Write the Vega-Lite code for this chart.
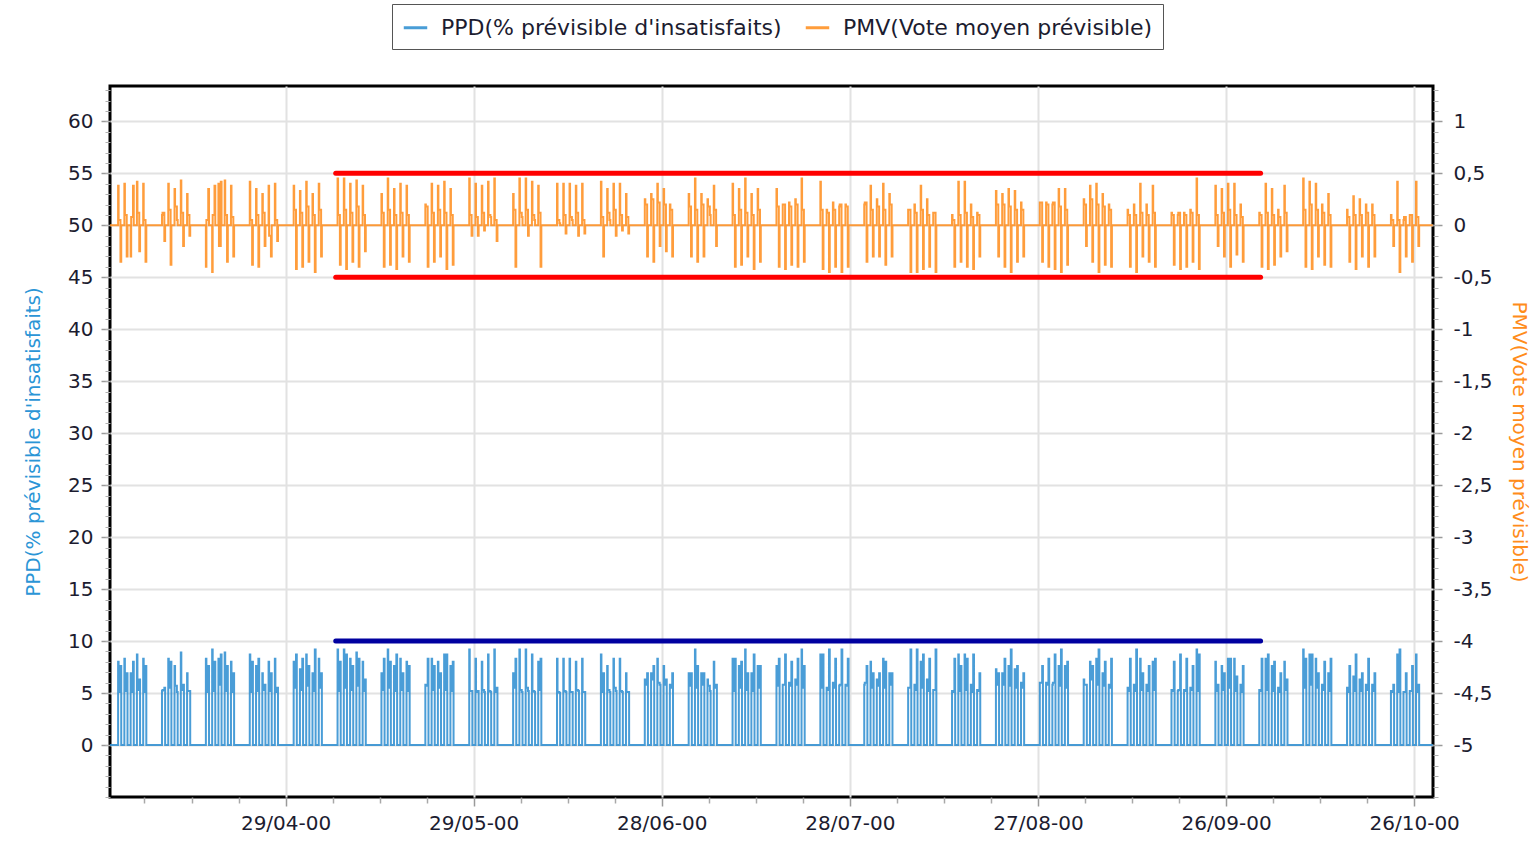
{
"$schema":"https://vega.github.io/schema/vega-lite/v6.json",
"width":1323,"height":711,
"autosize":{"type":"none"},
"padding":{"left":110,"top":86,"right":105,"bottom":47},
"background":"white",
"config":{"view":{"stroke":"#000","strokeWidth":3},"font":"DejaVu Sans"},
"data":{"format":{"parse":{"t":"date:'%y%m%d%H'"}},"values":[
{"t":"00040100","p":0,"m":0},
{"t":"00040207","p":8,"m":0.38},{"t":"00040209","p":5.1,"m":0.05},{"t":"00040216","p":7.6,"m":-0.35},{"t":"00040219","p":0,"m":0},
{"t":"00040307","p":8.3,"m":0.4},{"t":"00040309","p":5.2,"m":0.1},{"t":"00040316","p":6.9,"m":-0.3},{"t":"00040319","p":0,"m":0},
{"t":"00040407","p":6.9,"m":-0.3},{"t":"00040409","p":5.1,"m":0.08},{"t":"00040416","p":8,"m":0.38},{"t":"00040419","p":0,"m":0},
{"t":"00040507","p":8.7,"m":0.42},{"t":"00040509","p":5.3,"m":0.12},{"t":"00040516","p":6.3,"m":-0.25},{"t":"00040519","p":0,"m":0},
{"t":"00040607","p":8.3,"m":0.4},{"t":"00040609","p":5.1,"m":0.05},{"t":"00040616","p":7.6,"m":-0.35},{"t":"00040619","p":0,"m":0},
{"t":"00040907","p":5.2,"m":0.1},{"t":"00040909","p":5.3,"m":0.12},{"t":"00040916","p":5.5,"m":-0.15},{"t":"00040919","p":0,"m":0},
{"t":"00041007","p":8.3,"m":0.4},{"t":"00041009","p":5.5,"m":0.15},{"t":"00041016","p":8,"m":-0.38},{"t":"00041019","p":0,"m":0},
{"t":"00041107","p":7.6,"m":0.35},{"t":"00041109","p":5.7,"m":0.18},{"t":"00041116","p":5.1,"m":0.05},{"t":"00041119","p":0,"m":0},
{"t":"00041207","p":8.9,"m":0.43},{"t":"00041209","p":5.3,"m":0.12},{"t":"00041216","p":5.8,"m":-0.2},{"t":"00041219","p":0,"m":0},
{"t":"00041307","p":6.9,"m":0.3},{"t":"00041309","p":5.2,"m":0.1},{"t":"00041316","p":5.2,"m":-0.1},{"t":"00041319","p":0,"m":0},
{"t":"00041607","p":8.3,"m":-0.4},{"t":"00041609","p":5.1,"m":0.05},{"t":"00041616","p":7.6,"m":0.35},{"t":"00041619","p":0,"m":0},
{"t":"00041707","p":9.2,"m":-0.45},{"t":"00041709","p":5.2,"m":0.1},{"t":"00041716","p":8,"m":0.38},{"t":"00041719","p":0,"m":0},
{"t":"00041807","p":8.3,"m":0.4},{"t":"00041809","p":5.8,"m":-0.2},{"t":"00041816","p":8.7,"m":0.42},{"t":"00041819","p":0,"m":0},
{"t":"00041907","p":8.9,"m":0.43},{"t":"00041909","p":5.2,"m":0.1},{"t":"00041916","p":7.6,"m":-0.35},{"t":"00041919","p":0,"m":0},
{"t":"00042007","p":8,"m":0.38},{"t":"00042009","p":5.1,"m":0.08},{"t":"00042016","p":6.9,"m":-0.3},{"t":"00042019","p":0,"m":0},
{"t":"00042307","p":8.7,"m":0.42},{"t":"00042309","p":5.1,"m":0.05},{"t":"00042316","p":8,"m":-0.38},{"t":"00042319","p":0,"m":0},
{"t":"00042407","p":7.6,"m":0.35},{"t":"00042409","p":5.2,"m":0.1},{"t":"00042416","p":8.3,"m":-0.4},{"t":"00042419","p":0,"m":0},
{"t":"00042507","p":6.9,"m":0.3},{"t":"00042509","p":5.3,"m":0.12},{"t":"00042516","p":5.8,"m":-0.2},{"t":"00042519","p":0,"m":0},
{"t":"00042607","p":8,"m":0.38},{"t":"00042609","p":5.2,"m":-0.1},{"t":"00042616","p":6.9,"m":-0.3},{"t":"00042619","p":0,"m":0},
{"t":"00042707","p":8.3,"m":0.4},{"t":"00042709","p":5.1,"m":0.05},{"t":"00042716","p":5.5,"m":-0.15},{"t":"00042719","p":0,"m":0},
{"t":"00043007","p":8,"m":0.38},{"t":"00043009","p":5.5,"m":0.15},{"t":"00043016","p":8.7,"m":-0.42},{"t":"00043019","p":0,"m":0},
{"t":"00050107","p":7.3,"m":0.33},{"t":"00050109","p":5.3,"m":0.12},{"t":"00050116","p":8.3,"m":-0.4},{"t":"00050119","p":0,"m":0},
{"t":"00050207","p":8.7,"m":0.42},{"t":"00050209","p":5.7,"m":0.18},{"t":"00050216","p":7.6,"m":-0.35},{"t":"00050219","p":0,"m":0},
{"t":"00050307","p":6.9,"m":0.3},{"t":"00050309","p":5.2,"m":0.1},{"t":"00050316","p":9.2,"m":-0.45},{"t":"00050319","p":0,"m":0},
{"t":"00050407","p":8.3,"m":0.4},{"t":"00050409","p":5.5,"m":0.15},{"t":"00050416","p":6.9,"m":-0.3},{"t":"00050419","p":0,"m":0},
{"t":"00050707","p":9.2,"m":0.45},{"t":"00050709","p":5.2,"m":0.1},{"t":"00050716","p":8,"m":-0.38},{"t":"00050719","p":0,"m":0},
{"t":"00050807","p":9.2,"m":0.45},{"t":"00050809","p":5.5,"m":0.15},{"t":"00050816","p":8.7,"m":-0.42},{"t":"00050819","p":0,"m":0},
{"t":"00050907","p":8.3,"m":0.4},{"t":"00050909","p":5.3,"m":0.12},{"t":"00050916","p":7.6,"m":-0.35},{"t":"00050919","p":0,"m":0},
{"t":"00051007","p":8.9,"m":0.43},{"t":"00051009","p":5.7,"m":0.18},{"t":"00051016","p":8.3,"m":-0.4},{"t":"00051019","p":0,"m":0},
{"t":"00051107","p":8,"m":0.38},{"t":"00051109","p":5.2,"m":0.1},{"t":"00051116","p":6.3,"m":-0.25},{"t":"00051119","p":0,"m":0},
{"t":"00051407","p":6.9,"m":0.3},{"t":"00051409","p":5.3,"m":0.12},{"t":"00051416","p":8.3,"m":-0.4},{"t":"00051419","p":0,"m":0},
{"t":"00051507","p":9.2,"m":0.45},{"t":"00051509","p":5.5,"m":0.15},{"t":"00051516","p":8,"m":-0.38},{"t":"00051519","p":0,"m":0},
{"t":"00051607","p":7.6,"m":0.35},{"t":"00051609","p":5.2,"m":0.1},{"t":"00051616","p":8.7,"m":-0.42},{"t":"00051619","p":0,"m":0},
{"t":"00051707","p":8.3,"m":0.4},{"t":"00051709","p":5.3,"m":0.12},{"t":"00051716","p":6.9,"m":-0.3},{"t":"00051719","p":0,"m":0},
{"t":"00051807","p":8,"m":0.38},{"t":"00051809","p":5.2,"m":0.1},{"t":"00051816","p":7.6,"m":-0.35},{"t":"00051819","p":0,"m":0},
{"t":"00052107","p":5.8,"m":0.2},{"t":"00052109","p":5.7,"m":0.18},{"t":"00052116","p":8.3,"m":-0.4},{"t":"00052119","p":0,"m":0},
{"t":"00052207","p":8.3,"m":0.4},{"t":"00052209","p":5.3,"m":0.12},{"t":"00052216","p":7.6,"m":-0.35},{"t":"00052219","p":0,"m":0},
{"t":"00052307","p":8,"m":0.38},{"t":"00052309","p":5.5,"m":0.15},{"t":"00052316","p":6.9,"m":-0.3},{"t":"00052319","p":0,"m":0},
{"t":"00052407","p":8.7,"m":0.42},{"t":"00052409","p":5.3,"m":0.12},{"t":"00052416","p":8.7,"m":-0.42},{"t":"00052419","p":0,"m":0},
{"t":"00052507","p":7.6,"m":0.35},{"t":"00052509","p":5.2,"m":0.1},{"t":"00052516","p":8,"m":-0.38},{"t":"00052519","p":0,"m":0},
{"t":"00052807","p":9.2,"m":0.45},{"t":"00052809","p":5.2,"m":0.1},{"t":"00052816","p":5.2,"m":-0.1},{"t":"00052819","p":0,"m":0},
{"t":"00052907","p":8.3,"m":0.4},{"t":"00052909","p":5.1,"m":0.08},{"t":"00052916","p":5.2,"m":-0.1},{"t":"00052919","p":0,"m":0},
{"t":"00053007","p":8,"m":0.38},{"t":"00053009","p":5.3,"m":0.12},{"t":"00053016","p":5.1,"m":-0.05},{"t":"00053019","p":0,"m":0},
{"t":"00053107","p":8.7,"m":0.42},{"t":"00053109","p":5.2,"m":0.1},{"t":"00053116","p":5.1,"m":0.08},{"t":"00053119","p":0,"m":0},
{"t":"00060107","p":9.2,"m":0.45},{"t":"00060109","p":5.1,"m":0.05},{"t":"00060116","p":5.5,"m":-0.15},{"t":"00060119","p":0,"m":0},
{"t":"00060407","p":6.9,"m":0.3},{"t":"00060409","p":5.5,"m":0.15},{"t":"00060416","p":8.3,"m":-0.4},{"t":"00060419","p":0,"m":0},
{"t":"00060507","p":9.2,"m":0.45},{"t":"00060509","p":5.3,"m":0.12},{"t":"00060516","p":5.1,"m":0.08},{"t":"00060519","p":0,"m":0},
{"t":"00060607","p":9.2,"m":0.45},{"t":"00060609","p":5.5,"m":0.15},{"t":"00060616","p":5.2,"m":-0.1},{"t":"00060619","p":0,"m":0},
{"t":"00060707","p":8.7,"m":0.42},{"t":"00060709","p":5.2,"m":0.1},{"t":"00060716","p":5.1,"m":0.05},{"t":"00060719","p":0,"m":0},
{"t":"00060807","p":8,"m":0.38},{"t":"00060809","p":5.3,"m":0.12},{"t":"00060816","p":8.3,"m":-0.4},{"t":"00060819","p":0,"m":0},
{"t":"00061107","p":8.3,"m":0.4},{"t":"00061109","p":5.1,"m":0.05},{"t":"00061116","p":5,"m":0.02},{"t":"00061119","p":0,"m":0},
{"t":"00061207","p":8.3,"m":0.4},{"t":"00061209","p":5.2,"m":0.1},{"t":"00061216","p":5.1,"m":-0.08},{"t":"00061219","p":0,"m":0},
{"t":"00061307","p":8.3,"m":0.4},{"t":"00061309","p":5.1,"m":0.08},{"t":"00061316","p":5.1,"m":0.05},{"t":"00061319","p":0,"m":0},
{"t":"00061407","p":8,"m":0.38},{"t":"00061409","p":5.3,"m":0.12},{"t":"00061416","p":5.2,"m":-0.1},{"t":"00061419","p":0,"m":0},
{"t":"00061507","p":8.3,"m":0.4},{"t":"00061509","p":5.1,"m":0.05},{"t":"00061516","p":5.1,"m":-0.08},{"t":"00061519","p":0,"m":0},
{"t":"00061807","p":8.7,"m":0.42},{"t":"00061809","p":5.1,"m":0.08},{"t":"00061816","p":6.9,"m":-0.3},{"t":"00061819","p":0,"m":0},
{"t":"00061907","p":7.6,"m":0.35},{"t":"00061909","p":5.3,"m":0.12},{"t":"00061916","p":5.1,"m":0.05},{"t":"00061919","p":0,"m":0},
{"t":"00062007","p":8.3,"m":0.4},{"t":"00062009","p":5.5,"m":0.15},{"t":"00062016","p":5.2,"m":-0.1},{"t":"00062019","p":0,"m":0},
{"t":"00062107","p":8.3,"m":0.4},{"t":"00062109","p":5.2,"m":0.1},{"t":"00062116","p":5.1,"m":-0.05},{"t":"00062119","p":0,"m":0},
{"t":"00062207","p":6.9,"m":0.3},{"t":"00062209","p":5.1,"m":0.08},{"t":"00062216","p":5.1,"m":-0.08},{"t":"00062219","p":0,"m":0},
{"t":"00062507","p":6.3,"m":0.25},{"t":"00062509","p":5.8,"m":0.2},{"t":"00062516","p":6.9,"m":-0.3},{"t":"00062519","p":0,"m":0},
{"t":"00062607","p":6.9,"m":0.3},{"t":"00062609","p":6.3,"m":0.25},{"t":"00062616","p":7.6,"m":-0.35},{"t":"00062619","p":0,"m":0},
{"t":"00062707","p":8.3,"m":0.4},{"t":"00062709","p":6,"m":0.22},{"t":"00062716","p":5.8,"m":-0.2},{"t":"00062719","p":0,"m":0},
{"t":"00062807","p":7.6,"m":0.35},{"t":"00062809","p":5.8,"m":0.2},{"t":"00062816","p":6.3,"m":-0.25},{"t":"00062819","p":0,"m":0},
{"t":"00062907","p":5.8,"m":0.2},{"t":"00062909","p":5.5,"m":0.15},{"t":"00062916","p":6.9,"m":-0.3},{"t":"00062919","p":0,"m":0},
{"t":"00070207","p":6.9,"m":0.3},{"t":"00070209","p":5.7,"m":0.18},{"t":"00070216","p":6.9,"m":-0.3},{"t":"00070219","p":0,"m":0},
{"t":"00070307","p":9.2,"m":0.45},{"t":"00070309","p":5.5,"m":0.15},{"t":"00070316","p":7.6,"m":-0.35},{"t":"00070319","p":0,"m":0},
{"t":"00070407","p":6.9,"m":0.3},{"t":"00070409","p":5.8,"m":0.2},{"t":"00070416","p":6.9,"m":-0.3},{"t":"00070419","p":0,"m":0},
{"t":"00070507","p":6.3,"m":0.25},{"t":"00070509","p":5.7,"m":0.18},{"t":"00070516","p":5.2,"m":0.1},{"t":"00070519","p":0,"m":0},
{"t":"00070607","p":8,"m":0.38},{"t":"00070609","p":5.5,"m":0.15},{"t":"00070616","p":5.8,"m":-0.2},{"t":"00070619","p":0,"m":0},
{"t":"00070907","p":8.3,"m":0.4},{"t":"00070909","p":5.2,"m":0.1},{"t":"00070916","p":8.3,"m":-0.4},{"t":"00070919","p":0,"m":0},
{"t":"00071007","p":7.6,"m":0.35},{"t":"00071009","p":5.5,"m":0.15},{"t":"00071016","p":8,"m":-0.38},{"t":"00071019","p":0,"m":0},
{"t":"00071107","p":9.2,"m":0.45},{"t":"00071109","p":5.3,"m":0.12},{"t":"00071116","p":6.9,"m":-0.3},{"t":"00071119","p":0,"m":0},
{"t":"00071207","p":6.9,"m":0.3},{"t":"00071209","p":5.2,"m":0.1},{"t":"00071216","p":8.7,"m":-0.42},{"t":"00071219","p":0,"m":0},
{"t":"00071307","p":7.6,"m":0.35},{"t":"00071309","p":5.5,"m":0.15},{"t":"00071316","p":7.6,"m":-0.35},{"t":"00071319","p":0,"m":0},
{"t":"00071607","p":7.6,"m":0.35},{"t":"00071609","p":5.7,"m":0.18},{"t":"00071616","p":8.3,"m":-0.4},{"t":"00071619","p":0,"m":0},
{"t":"00071707","p":5.8,"m":0.2},{"t":"00071709","p":5.8,"m":0.2},{"t":"00071716","p":8.7,"m":-0.42},{"t":"00071719","p":0,"m":0},
{"t":"00071807","p":6,"m":0.22},{"t":"00071809","p":5.7,"m":0.18},{"t":"00071816","p":8,"m":-0.38},{"t":"00071819","p":0,"m":0},
{"t":"00071907","p":6.3,"m":0.25},{"t":"00071909","p":5.8,"m":0.2},{"t":"00071916","p":8.3,"m":-0.4},{"t":"00071919","p":0,"m":0},
{"t":"00072007","p":9.2,"m":0.45},{"t":"00072009","p":5.5,"m":0.15},{"t":"00072016","p":7.6,"m":-0.35},{"t":"00072019","p":0,"m":0},
{"t":"00072307","p":8.7,"m":0.42},{"t":"00072309","p":5.5,"m":0.15},{"t":"00072316","p":8.7,"m":-0.42},{"t":"00072319","p":0,"m":0},
{"t":"00072407","p":5.5,"m":0.15},{"t":"00072409","p":5.3,"m":0.12},{"t":"00072416","p":9.2,"m":-0.45},{"t":"00072419","p":0,"m":0},
{"t":"00072507","p":6,"m":0.22},{"t":"00072509","p":5.5,"m":0.15},{"t":"00072516","p":8.3,"m":-0.4},{"t":"00072519","p":0,"m":0},
{"t":"00072607","p":5.7,"m":0.18},{"t":"00072609","p":5.8,"m":0.2},{"t":"00072616","p":9.2,"m":-0.45},{"t":"00072619","p":0,"m":0},
{"t":"00072707","p":5.8,"m":0.2},{"t":"00072709","p":5.7,"m":0.18},{"t":"00072716","p":8.3,"m":-0.4},{"t":"00072719","p":0,"m":0},
{"t":"00073007","p":5.8,"m":0.2},{"t":"00073009","p":6,"m":0.22},{"t":"00073016","p":7.6,"m":-0.35},{"t":"00073019","p":0,"m":0},
{"t":"00073107","p":8,"m":0.38},{"t":"00073109","p":5.5,"m":0.15},{"t":"00073116","p":6.9,"m":-0.3},{"t":"00073119","p":0,"m":0},
{"t":"00080107","p":6.3,"m":0.25},{"t":"00080109","p":5.7,"m":0.18},{"t":"00080116","p":6.9,"m":-0.3},{"t":"00080119","p":0,"m":0},
{"t":"00080207","p":8.3,"m":0.4},{"t":"00080209","p":5.5,"m":0.15},{"t":"00080216","p":8,"m":-0.38},{"t":"00080219","p":0,"m":0},
{"t":"00080307","p":6.9,"m":0.3},{"t":"00080309","p":5.8,"m":0.2},{"t":"00080316","p":6.9,"m":-0.3},{"t":"00080319","p":0,"m":0},
{"t":"00080607","p":5.5,"m":0.15},{"t":"00080609","p":5.5,"m":0.15},{"t":"00080616","p":9.2,"m":-0.45},{"t":"00080619","p":0,"m":0},
{"t":"00080707","p":5.8,"m":0.2},{"t":"00080709","p":5.3,"m":0.12},{"t":"00080716","p":9.2,"m":-0.45},{"t":"00080719","p":0,"m":0},
{"t":"00080807","p":8,"m":0.38},{"t":"00080809","p":5.5,"m":0.15},{"t":"00080816","p":8.7,"m":-0.42},{"t":"00080819","p":0,"m":0},
{"t":"00080907","p":6.3,"m":0.25},{"t":"00080909","p":5.2,"m":0.1},{"t":"00080916","p":8.3,"m":-0.4},{"t":"00080919","p":0,"m":0},
{"t":"00081007","p":5.3,"m":0.12},{"t":"00081009","p":5.3,"m":0.12},{"t":"00081016","p":9.2,"m":-0.45},{"t":"00081019","p":0,"m":0},
{"t":"00081307","p":5.2,"m":0.1},{"t":"00081309","p":5.1,"m":0.05},{"t":"00081316","p":8.3,"m":-0.4},{"t":"00081319","p":0,"m":0},
{"t":"00081407","p":8.7,"m":0.42},{"t":"00081409","p":5.2,"m":0.1},{"t":"00081416","p":7.6,"m":-0.35},{"t":"00081419","p":0,"m":0},
{"t":"00081507","p":8.7,"m":0.42},{"t":"00081509","p":5.3,"m":0.12},{"t":"00081516","p":8.3,"m":-0.4},{"t":"00081519","p":0,"m":0},
{"t":"00081607","p":5.8,"m":0.2},{"t":"00081609","p":5.1,"m":0.08},{"t":"00081616","p":8.7,"m":-0.42},{"t":"00081619","p":0,"m":0},
{"t":"00081707","p":5.3,"m":0.12},{"t":"00081709","p":5.2,"m":0.1},{"t":"00081716","p":6.9,"m":-0.3},{"t":"00081719","p":0,"m":0},
{"t":"00082007","p":7.3,"m":0.33},{"t":"00082009","p":5.8,"m":0.2},{"t":"00082016","p":6.9,"m":-0.3},{"t":"00082019","p":0,"m":0},
{"t":"00082107","p":6.9,"m":0.3},{"t":"00082109","p":5.8,"m":0.2},{"t":"00082116","p":8.3,"m":-0.4},{"t":"00082119","p":0,"m":0},
{"t":"00082207","p":7.6,"m":0.35},{"t":"00082209","p":5.7,"m":0.18},{"t":"00082216","p":9.2,"m":-0.45},{"t":"00082219","p":0,"m":0},
{"t":"00082307","p":7.3,"m":0.33},{"t":"00082309","p":5.5,"m":0.15},{"t":"00082316","p":7.6,"m":-0.35},{"t":"00082319","p":0,"m":0},
{"t":"00082407","p":6,"m":0.22},{"t":"00082409","p":5.5,"m":0.15},{"t":"00082416","p":6.9,"m":-0.3},{"t":"00082419","p":0,"m":0},
{"t":"00082707","p":6,"m":0.22},{"t":"00082709","p":6,"m":0.22},{"t":"00082716","p":7.6,"m":-0.35},{"t":"00082719","p":0,"m":0},
{"t":"00082807","p":6,"m":0.22},{"t":"00082809","p":5.8,"m":0.2},{"t":"00082816","p":8.3,"m":-0.4},{"t":"00082819","p":0,"m":0},
{"t":"00082907","p":5.8,"m":0.2},{"t":"00082909","p":6,"m":0.22},{"t":"00082916","p":8.7,"m":-0.42},{"t":"00082919","p":0,"m":0},
{"t":"00083007","p":7.6,"m":0.35},{"t":"00083009","p":5.7,"m":0.18},{"t":"00083016","p":9.2,"m":-0.45},{"t":"00083019","p":0,"m":0},
{"t":"00083107","p":7.6,"m":0.35},{"t":"00083109","p":5.5,"m":0.15},{"t":"00083116","p":8,"m":-0.38},{"t":"00083119","p":0,"m":0},
{"t":"00090307","p":6.3,"m":0.25},{"t":"00090309","p":5.8,"m":0.2},{"t":"00090316","p":5.8,"m":-0.2},{"t":"00090319","p":0,"m":0},
{"t":"00090407","p":8,"m":0.38},{"t":"00090409","p":6.3,"m":0.25},{"t":"00090416","p":7.6,"m":-0.35},{"t":"00090419","p":0,"m":0},
{"t":"00090507","p":8.3,"m":0.4},{"t":"00090509","p":5.8,"m":0.2},{"t":"00090516","p":9.2,"m":-0.45},{"t":"00090519","p":0,"m":0},
{"t":"00090607","p":6.9,"m":0.3},{"t":"00090609","p":5.7,"m":0.18},{"t":"00090616","p":8,"m":-0.38},{"t":"00090619","p":0,"m":0},
{"t":"00090707","p":5.8,"m":0.2},{"t":"00090709","p":5.5,"m":0.15},{"t":"00090716","p":8.3,"m":-0.4},{"t":"00090719","p":0,"m":0},
{"t":"00091007","p":5.5,"m":0.15},{"t":"00091009","p":5.2,"m":0.1},{"t":"00091016","p":8.3,"m":-0.4},{"t":"00091019","p":0,"m":0},
{"t":"00091107","p":5.8,"m":0.2},{"t":"00091109","p":5.2,"m":0.1},{"t":"00091116","p":9.2,"m":-0.45},{"t":"00091119","p":0,"m":0},
{"t":"00091207","p":8.3,"m":0.4},{"t":"00091209","p":5.3,"m":0.12},{"t":"00091216","p":6.9,"m":-0.3},{"t":"00091219","p":0,"m":0},
{"t":"00091307","p":5.8,"m":0.2},{"t":"00091309","p":5.2,"m":0.1},{"t":"00091316","p":7.6,"m":-0.35},{"t":"00091319","p":0,"m":0},
{"t":"00091407","p":8,"m":0.38},{"t":"00091409","p":5.3,"m":0.12},{"t":"00091416","p":8.3,"m":-0.4},{"t":"00091419","p":0,"m":0},
{"t":"00091707","p":5.3,"m":0.12},{"t":"00091709","p":5.2,"m":0.1},{"t":"00091716","p":8,"m":-0.38},{"t":"00091719","p":0,"m":0},
{"t":"00091807","p":5.2,"m":0.1},{"t":"00091809","p":5.3,"m":0.12},{"t":"00091816","p":8.7,"m":-0.42},{"t":"00091819","p":0,"m":0},
{"t":"00091907","p":5.3,"m":0.12},{"t":"00091909","p":5.2,"m":0.1},{"t":"00091916","p":8.3,"m":-0.4},{"t":"00091919","p":0,"m":0},
{"t":"00092007","p":5.5,"m":0.15},{"t":"00092009","p":5.3,"m":0.12},{"t":"00092016","p":7.6,"m":-0.35},{"t":"00092019","p":0,"m":0},
{"t":"00092107","p":9.2,"m":0.45},{"t":"00092109","p":5.2,"m":0.1},{"t":"00092116","p":8.7,"m":-0.42},{"t":"00092119","p":0,"m":0},
{"t":"00092407","p":8,"m":0.38},{"t":"00092409","p":5.2,"m":0.1},{"t":"00092416","p":5.8,"m":-0.2},{"t":"00092419","p":0,"m":0},
{"t":"00092507","p":7.6,"m":0.35},{"t":"00092509","p":5.3,"m":0.12},{"t":"00092516","p":6.9,"m":-0.3},{"t":"00092519","p":0,"m":0},
{"t":"00092607","p":8.3,"m":0.4},{"t":"00092609","p":5.5,"m":0.15},{"t":"00092616","p":8.3,"m":-0.4},{"t":"00092619","p":0,"m":0},
{"t":"00092707","p":8.3,"m":0.4},{"t":"00092709","p":5.2,"m":0.1},{"t":"00092716","p":6.6,"m":-0.28},{"t":"00092719","p":0,"m":0},
{"t":"00092807","p":5.8,"m":0.2},{"t":"00092809","p":5.1,"m":0.08},{"t":"00092816","p":7.6,"m":-0.35},{"t":"00092819","p":0,"m":0},
{"t":"00100107","p":5.3,"m":0.12},{"t":"00100109","p":5.2,"m":0.1},{"t":"00100116","p":8.3,"m":-0.4},{"t":"00100119","p":0,"m":0},
{"t":"00100207","p":8.3,"m":0.4},{"t":"00100209","p":5.3,"m":0.12},{"t":"00100216","p":8.7,"m":-0.42},{"t":"00100219","p":0,"m":0},
{"t":"00100307","p":7.6,"m":0.35},{"t":"00100309","p":5.2,"m":0.1},{"t":"00100316","p":8,"m":-0.38},{"t":"00100319","p":0,"m":0},
{"t":"00100407","p":5.5,"m":0.15},{"t":"00100409","p":5.1,"m":0.08},{"t":"00100416","p":6.9,"m":-0.3},{"t":"00100419","p":0,"m":0},
{"t":"00100507","p":8,"m":0.38},{"t":"00100509","p":5.3,"m":0.12},{"t":"00100516","p":6.3,"m":-0.25},{"t":"00100519","p":0,"m":0},
{"t":"00100807","p":9.2,"m":0.45},{"t":"00100809","p":5.5,"m":0.15},{"t":"00100816","p":8.3,"m":-0.4},{"t":"00100819","p":0,"m":0},
{"t":"00100907","p":8.7,"m":0.42},{"t":"00100909","p":5.8,"m":0.2},{"t":"00100916","p":8.7,"m":-0.42},{"t":"00100919","p":0,"m":0},
{"t":"00101007","p":8.3,"m":0.4},{"t":"00101009","p":5.5,"m":0.15},{"t":"00101016","p":6.9,"m":-0.3},{"t":"00101019","p":0,"m":0},
{"t":"00101107","p":5.8,"m":0.2},{"t":"00101109","p":5.3,"m":0.12},{"t":"00101116","p":8,"m":-0.38},{"t":"00101119","p":0,"m":0},
{"t":"00101207","p":6.9,"m":0.3},{"t":"00101209","p":5.2,"m":0.1},{"t":"00101216","p":8.3,"m":-0.4},{"t":"00101219","p":0,"m":0},
{"t":"00101507","p":5.5,"m":0.15},{"t":"00101509","p":5.1,"m":0.08},{"t":"00101516","p":7.6,"m":-0.35},{"t":"00101519","p":0,"m":0},
{"t":"00101607","p":6.6,"m":0.28},{"t":"00101609","p":5.2,"m":0.1},{"t":"00101616","p":8.7,"m":-0.42},{"t":"00101619","p":0,"m":0},
{"t":"00101707","p":6.3,"m":0.25},{"t":"00101709","p":5.2,"m":0.1},{"t":"00101716","p":6.9,"m":-0.3},{"t":"00101719","p":0,"m":0},
{"t":"00101807","p":5.8,"m":0.2},{"t":"00101809","p":5.3,"m":0.12},{"t":"00101816","p":8.3,"m":-0.4},{"t":"00101819","p":0,"m":0},
{"t":"00101907","p":5.8,"m":0.2},{"t":"00101909","p":5.2,"m":0.1},{"t":"00101916","p":6.9,"m":-0.3},{"t":"00101919","p":0,"m":0},
{"t":"00102207","p":5.2,"m":0.1},{"t":"00102209","p":5.1,"m":0.05},{"t":"00102216","p":5.8,"m":-0.2},{"t":"00102219","p":0,"m":0},
{"t":"00102307","p":8.7,"m":0.42},{"t":"00102309","p":5.1,"m":0.05},{"t":"00102316","p":9.2,"m":-0.45},{"t":"00102319","p":0,"m":0},
{"t":"00102407","p":5.1,"m":0.05},{"t":"00102409","p":5.1,"m":0.08},{"t":"00102416","p":6.9,"m":-0.3},{"t":"00102419","p":0,"m":0},
{"t":"00102507","p":5.2,"m":0.1},{"t":"00102509","p":5.2,"m":0.1},{"t":"00102516","p":7.6,"m":-0.35},{"t":"00102519","p":0,"m":0},
{"t":"00102607","p":8.7,"m":0.42},{"t":"00102609","p":5.1,"m":0.08},{"t":"00102616","p":5.8,"m":-0.2},{"t":"00102619","p":0,"m":0},
{"t":"00102823","p":0,"m":0}
]},
"layer":[
 {"layer":[
   {"mark":{"type":"line","interpolate":"step-after","strokeWidth":2,"opacity":0.85,"clip":true},
    "encoding":{
     "x":{"field":"t","type":"temporal",
          "scale":{"domain":[{"year":2000,"month":4,"date":1},{"year":2000,"month":10,"date":29}]},
          "axis":{"orient":"bottom","title":null,"format":"%d/%m-%y",
                  "values":[{"year":2000,"month":4,"date":29},{"year":2000,"month":5,"date":29},{"year":2000,"month":6,"date":28},{"year":2000,"month":7,"date":28},{"year":2000,"month":8,"date":27},{"year":2000,"month":9,"date":26},{"year":2000,"month":10,"date":26}],
                  "labelFont":"DejaVu Sans","labelFontSize":20,"labelColor":"#1c1c30","labelPadding":7,
                  "tickColor":"#9a9a9a","tickSize":9,"tickWidth":1.5,"domain":false,
                  "grid":true,"gridColor":"#e2e2e2","gridWidth":2}},
     "y":{"field":"p","type":"quantitative",
          "scale":{"domain":[-5,63.4],"nice":false,"zero":false},
          "axis":{"orient":"left","values":[0,5,10,15,20,25,30,35,40,45,50,55,60],
                  "title":"PPD(% prévisible d'insatisfaits)","titleColor":"#2b95d6","titleFont":"DejaVu Sans","titleFontSize":20,"titleFontWeight":"normal","titlePadding":24,
                  "labelFont":"DejaVu Sans","labelFontSize":20,"labelColor":"#1c1c30","labelPadding":8,
                  "tickColor":"#9a9a9a","tickSize":9,"tickWidth":1.5,"domain":false,
                  "grid":true,"gridColor":"#e2e2e2","gridWidth":2}},
     "color":{"datum":"PPD(% prévisible d'insatisfaits)","type":"nominal",
          "scale":{"domain":["PPD(% prévisible d'insatisfaits)","PMV(Vote moyen prévisible)"],"range":["#2a8cd0","#ff8c1a"]},
          "legend":{"orient":"none","legendX":282,"legendY":-82,"direction":"horizontal","title":null,
                    "symbolType":"stroke","symbolStrokeWidth":3,"symbolSize":550,"symbolOpacity":0.6,
                    "labelFont":"DejaVu Sans","labelFontSize":22,"labelColor":"#1c1c30","labelLimit":600,"labelOffset":12,
                    "strokeColor":"#555","fillColor":"white","padding":10,"columnPadding":17}}
    }},
   {"data":{"format":{"parse":{"t":"date:'%y%m%d%H'"}},"values":[{"t":"00050700","v":10},{"t":"00100112","v":10}]},
    "mark":{"type":"line","color":"#0000a0","strokeWidth":5,"strokeCap":"round"},
    "encoding":{
     "x":{"field":"t","type":"temporal"},
     "y":{"field":"v","type":"quantitative",
          "axis":{"orient":"left","tickCount":70,"labels":false,"title":null,"grid":false,"domain":false,"tickSize":5,"tickColor":"#b0b0b0"}}
    }}
  ],
  "resolve":{"axis":{"y":"independent"}}
 },
 {"layer":[
   {"mark":{"type":"line","interpolate":"step-after","strokeWidth":2,"opacity":0.85,"clip":true},
    "encoding":{
     "x":{"field":"t","type":"temporal",
          "axis":{"orient":"bottom","title":null,"labels":false,"grid":false,"domain":false,"tickSize":6,"tickColor":"#a8a8a8","tickWidth":1.5,
                  "values":[{"year":2000,"month":4,"date":6,"hours":12},{"year":2000,"month":4,"date":14},{"year":2000,"month":4,"date":21,"hours":12},
                            {"year":2000,"month":5,"date":6,"hours":12},{"year":2000,"month":5,"date":14},{"year":2000,"month":5,"date":21,"hours":12},
                            {"year":2000,"month":6,"date":5,"hours":12},{"year":2000,"month":6,"date":13},{"year":2000,"month":6,"date":20,"hours":12},
                            {"year":2000,"month":7,"date":5,"hours":12},{"year":2000,"month":7,"date":13},{"year":2000,"month":7,"date":20,"hours":12},
                            {"year":2000,"month":8,"date":4,"hours":12},{"year":2000,"month":8,"date":12},{"year":2000,"month":8,"date":19,"hours":12},
                            {"year":2000,"month":9,"date":3,"hours":12},{"year":2000,"month":9,"date":11},{"year":2000,"month":9,"date":18,"hours":12},
                            {"year":2000,"month":10,"date":3,"hours":12},{"year":2000,"month":10,"date":11},{"year":2000,"month":10,"date":18,"hours":12}]}},
     "y":{"field":"m","type":"quantitative",
          "scale":{"domain":[-5.5,1.34],"nice":false,"zero":false},
          "axis":{"orient":"right","values":[-5,-4.5,-4,-3.5,-3,-2.5,-2,-1.5,-1,-0.5,0,0.5,1],
                  "labelExpr":"replace('' + datum.value, '.', ',')",
                  "title":"PMV(Vote moyen prévisible)","titleColor":"#ff8c1a","titleFont":"DejaVu Sans","titleFontSize":20,"titleFontWeight":"normal","titlePadding":16,
                  "labelFont":"DejaVu Sans","labelFontSize":20,"labelColor":"#1c1c30","labelPadding":11,
                  "tickColor":"#9a9a9a","tickSize":9,"tickWidth":1.5,"domain":false,"grid":false}},
     "color":{"datum":"PMV(Vote moyen prévisible)","type":"nominal"}
    }},
   {"data":{"format":{"parse":{"t":"date:'%y%m%d%H'"}},"values":[{"t":"00050700","v":0.5,"g":"h"},{"t":"00100112","v":0.5,"g":"h"},{"t":"00050700","v":-0.5,"g":"l"},{"t":"00100112","v":-0.5,"g":"l"}]},
    "mark":{"type":"line","color":"#ff0000","strokeWidth":5,"strokeCap":"round"},
    "encoding":{
     "x":{"field":"t","type":"temporal"},
     "y":{"field":"v","type":"quantitative",
          "axis":{"orient":"right","tickCount":70,"labels":false,"title":null,"grid":false,"domain":false,"tickSize":5,"tickColor":"#b0b0b0"}},
     "detail":{"field":"g","type":"nominal"}
    }}
  ],
  "resolve":{"axis":{"y":"independent"}}
 }
],
"resolve":{"scale":{"y":"independent"},"axis":{"x":"independent"}}
}
